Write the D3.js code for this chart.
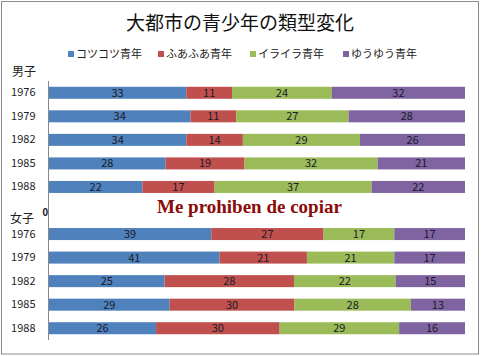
<!DOCTYPE html>
<html><head><meta charset="utf-8">
<script src="https://cdn.jsdelivr.net/npm/d3@7"></script>
<style>body{margin:0;background:#fff}svg{display:block}</style>
</head><body>
<script>
const title = "大都市の青少年の類型変化";
const seriesNames = ["コツコツ青年","ふあふあ青年","イライラ青年","ゆうゆう青年"];
const colors = ["#4F81BD","#C0504D","#9BBB59","#8064A2"];
const categories = ["男1976","男1979","男1982","男1985","男1988","gap","女1976","女1979","女1982","女1985","女1988"];
const tickLabels = ["1976","1979","1982","1985","1988","","1976","1979","1982","1985","1988"];
const kotsukotsu = [33,34,34,28,22,null,39,41,25,29,26];
const fuafua     = [11,11,14,19,17,null,27,21,28,30,30];
const iraira     = [24,27,29,32,37,null,17,21,22,28,29];
const yuuyuu     = [32,28,26,21,22,null,17,17,15,13,16];
const groupLabels = ["男子","女子"];
const watermark = "Me prohiben de copiar";

const W=481,H=356;
const svg=d3.select("body").append("svg").attr("width",W).attr("height",H);
svg.append("rect").attr("x",1.5).attr("y",1.5).attr("width",477).attr("height",352.5)
  .attr("fill","#fff").attr("stroke","#8c8c8c").attr("stroke-width",1);

const font="'Noto Sans CJK JP','Noto Sans',sans-serif";
svg.append("text").attr("x",240).attr("y",30).attr("text-anchor","middle")
  .attr("font-family",font).attr("font-size",19).attr("fill","#111").text(title);

const valuesBy=[kotsukotsu,fuafua,iraira,yuuyuu];
const rows=categories.map((c,i)=>{const o={cat:c};seriesNames.forEach((s,j)=>o[s]=valuesBy[j][i]||0);return o;});

const x=d3.scaleLinear().domain([0,1]).range([49,465]);
const y=d3.scaleBand().domain(categories).range([81,340]).paddingInner(0.49).paddingOuter(0.245);
const stack=d3.stack().keys(seriesNames).offset(d3.stackOffsetExpand);
const stacked=stack(rows);

const g=svg.append("g");
stacked.forEach((layer,j)=>{
  layer.forEach((d,i)=>{
    if(valuesBy[j][i]==null) return;
    g.append("rect").attr("x",x(d[0])).attr("y",y(categories[i]))
      .attr("width",x(d[1])-x(d[0])).attr("height",y.bandwidth()).attr("fill",colors[j]);
    g.append("text").attr("x",(x(d[0])+x(d[1]))/2).attr("y",y(categories[i])+y.bandwidth()/2+4)
      .attr("text-anchor","middle").attr("font-family",font).attr("font-size",11)
      .attr("fill","#1a1a2a").text(valuesBy[j][i]);
  });
});

const yAxis=d3.axisLeft(y).tickSize(0).tickPadding(13).tickFormat((d,i)=>tickLabels[i]);
const ax=svg.append("g").attr("transform","translate(48.5,0)").call(yAxis);
ax.select(".domain").attr("stroke","#888").attr("d","M0,81V340");
ax.selectAll("text").attr("font-family",font).attr("font-size",11).attr("fill","#222");

svg.append("text").attr("x",48).attr("y",y("gap")+y.bandwidth()/2+5).attr("text-anchor","end")
  .attr("font-family","'Liberation Sans',Arial,sans-serif").attr("font-weight","bold").attr("font-size",10)
  .attr("fill","#111").text("0");

svg.append("text").attr("x",12).attr("y",76).attr("font-family",font).attr("font-size",12).attr("fill","#222").text(groupLabels[0]);
svg.append("text").attr("x",10).attr("y",223).attr("font-family",font).attr("font-size",12).attr("fill","#222").text(groupLabels[1]);

// legend
const legX=[68,158,250,343];
seriesNames.forEach((s,j)=>{
  svg.append("rect").attr("x",legX[j]).attr("y",51).attr("width",6).attr("height",6).attr("fill",colors[j]);
  svg.append("text").attr("x",legX[j]+8).attr("y",58).attr("font-family",font).attr("font-size",11)
    .attr("fill","#222").text(s);
});

svg.append("text").attr("x",157).attr("y",213).attr("font-family","'Liberation Serif','Times New Roman',serif")
  .attr("font-weight","bold").attr("font-size",19).attr("fill","#8B0A0A").text(watermark);
</script>
</body></html>
